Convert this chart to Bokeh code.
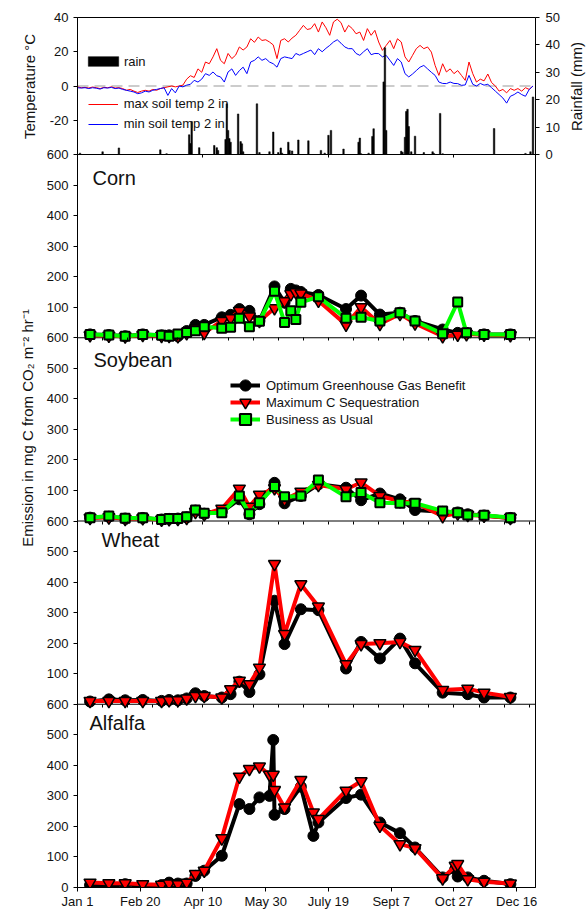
import math
from bokeh.plotting import figure
from bokeh.layouts import row
from bokeh.models import (Range1d, LinearAxis, FixedTicker, CustomJSTickFormatter,
                          Span, Label, Legend, LegendItem)
from bokeh.embed import file_html
from bokeh.resources import INLINE

FONT = "Liberation Sans"

# ---------------- data ----------------
temp_days = list(range(0, 366, 3))
max_soil_temp = [
    -0.5, -1, -0.8, -1.2, -0.6, -1, -1.5, -0.8, -1, -0.5, -1.2, -1,
    -1.5, -2.5, -2, -3, -3.8,
    -3, -2.5, -3, -2, -2.5, -1.5, -1,
    -0.5, 0, -0.5, 0, 0.5,
    4, 6, 5, 10, 8, 14, 13, 17, 21.8,
    15, 13, 19, 16, 18, 22.8, 21, 22.8, 27.6, 25.5, 28.6,
    26.6, 27, 25.7, 24, 16, 26.6, 27.6, 25.7, 28, 29.6, 32.5,
    35.4, 33, 33.5, 36.4, 31.5, 37.4, 34, 29.6, 37.4,
    39, 37, 31.5, 35.4, 33.5, 30.5, 31.5, 26.6, 33.5, 29.6, 32.5,
    25.7, 20.8, 23.7, 26.6, 21.8, 27.6, 25.7, 17, 14, 17.9, 21.8,
    23.7, 21.8, 22.8, 19.8, 12, 6.2, 13, 8.2, 10, 7.2, 9,
    6.2, 3.3, 14, 7.2, 2.3, 4, 3, 7, 2, 0, -3,
    -2, -4, -1.5, -2.5, -1.5, -3, -1, -2, 0,
]
min_soil_temp = [
    -1, -1.2, -1, -1.5, -1, -1.3, -1.8, -1, -1.2, -0.8, -1.5, -1.2,
    -2, -2.5, -3, -3.5, -4.5,
    -4, -3, -3.5, -2.5, -2, -1.5, -1,
    -5.5, -1.5, -4, 0, -0.5,
    0.5, 1, 3.3, 2.3, 4, 7.2, 6.2, 8.2, 6,
    5.3, 2.3, 8.2, 10, 6.2, 9, 11, 7.2, 14, 15, 17,
    15, 16, 14, 13, 11, 16, 17, 16.5, 16, 19, 18,
    19, 20, 21, 18.3, 21.8, 20, 22, 23.7, 25.7,
    27, 25, 22.8, 21.8, 21.8, 19, 17.9, 20, 21.8, 18.3, 19,
    18.9, 17, 17.9, 15, 12, 16, 14, 7.2, 5.3, 7, 9,
    11, 12, 10, 8, 6.2, 2.3, 1.5, 1.4, 2.3, 1.5, 1.4,
    0.4, 0.6, 6.2, 1, 0, 1.5, 0.5, 1, -1, -3, -5,
    -7, -10, -6, -5, -3.5, -5, -6, -2, 0,
]
rain_days = [2, 20, 33, 66, 71, 89, 90, 91, 97, 109, 111, 112, 118, 119, 120, 121, 122,
             128, 130, 131, 132, 143, 145, 153, 156, 160, 162, 163, 168, 169, 171, 176,
             184, 194, 197, 200, 202, 212, 224, 225, 226, 232, 235, 236, 244, 245, 246,
             258, 259, 261, 262, 263, 264, 266, 269, 276, 283, 284, 289, 291, 332, 357,
             361, 363]
rain_mm = [0.5, 1, 2.4, 1.7, 0.3, 7.2, 4, 12, 2.5, 3.3, 2.5, 1.5, 5.5, 18.5, 8.8, 5.8, 4.5,
           14.8, 4.7, 3.9, 1, 18.5, 0.7, 1, 8.2, 0.7, 2.4, 0.5, 4.5, 1.5, 1.3, 5.3,
           5, 1.5, 0.5, 7, 8.8, 2, 4.5, 6, 0.3, 0.5, 6.6, 9.4, 26.5, 39, 8.8,
           1.2, 0.8, 6.3, 15.7, 16.5, 10.2, 1, 6.7, 0.7, 1, 0.4, 15, 0.3, 9.5, 0.4,
           1, 21]

x_tick_days = [0, 50, 100, 150, 200, 250, 300, 350]
x_tick_labels = ["Jan 1", "Feb 20", "Apr 10", "May 30", "July 19", "Sept 7", "Oct 27", "Dec 16"]
boundary_tick_days = list(range(0, 366, 20))
top_boundary_tick_days = [100, 200, 300]
temp_ticks = [-40, -20, 0, 20, 40]
rain_ticks = [0, 10, 20, 30, 40, 50]
emission_ticks = [0, 100, 200, 300, 400, 500]

series_names = ["Optimum Greenhouse Gas Benefit", "Maximum C Sequestration", "Business as Usual"]

corn_days = [10, 25, 38, 52, 67, 73, 80, 87, 94, 101, 115, 122, 129, 137, 145, 157, 165, 170,
             174, 178, 192, 214, 226, 241, 257, 269, 291, 303, 310, 324, 345]
corn_opt = [11, 9, 5, 11, 8, 8, 5, 22, 42, 42, 67, 75, 94, 88, 55, 168, 115, 160, 155, 150,
            140, 94, 138, 76, 82, 55, 27, 16, 16, 11, 11]
corn_maxc = [8, 7, 4, 9, 6, 6, 5, 15, 30, 16, 55, 64, 88, 70, 55, 97, 120, 143, 149, 145,
             121, 43, 100, 45, 78, 47, 5, 10, 12, 10, 8]
corn_bau = [11, 9, 5, 11, 8, 5, 12, 17, 23, 36, 31, 34, 64, 36, 54, 152, 50, 88, 60, 116,
            134, 64, 67, 55, 82, 55, 13, 117, 16, 11, 11]

soy_days = [10, 25, 38, 52, 67, 73, 80, 87, 94, 101, 115, 129, 137, 145, 157, 165, 178, 192,
            214, 226, 241, 257, 269, 291, 303, 311, 324, 345]
soy_opt = [11, 14, 8, 10, 5, 7, 8, 12, 34, 24, 30, 71, 22, 55, 125, 58, 82, 120, 109, 68,
           90, 71, 36, 30, 28, 22, 18, 10]
soy_maxc = [10, 12, 7, 9, 4, 6, 7, 10, 30, 22, 40, 106, 47, 86, 107, 70, 96, 118, 104, 126,
            82, 65, 60, 16, 25, 20, 17, 10]
soy_bau = [11, 16, 9, 11, 5, 8, 8, 14, 36, 25, 27, 82, 24, 60, 113, 79, 82, 134, 79, 93,
           60, 58, 58, 33, 27, 20, 19, 11]

wheat_days = [10, 25, 38, 52, 67, 73, 80, 87, 94, 101, 115, 122, 129, 137, 145, 157, 165, 178,
              192, 214, 226, 241, 257, 269, 291, 311, 324, 345]
wheat_opt = [9, 16, 13, 14, 11, 14, 13, 19, 36, 27, 22, 33, 74, 40, 98, 339, 197, 311, 308,
             117, 204, 150, 215, 134, 38, 33, 22, 22]
wheat_maxc = [11, 11, 11, 11, 11, 13, 13, 19, 27, 27, 22, 49, 77, 66, 120, 459, 230, 393, 320,
              131, 197, 200, 204, 178, 47, 51, 38, 24]

alfalfa_days = [10, 25, 38, 52, 67, 73, 80, 87, 94, 101, 115, 129, 137, 145, 153, 156, 157, 165,
                178, 188, 192, 214, 226, 241, 257, 269, 291, 301, 303, 311, 324, 345]
alfalfa_opt = [8, 5, 11, 5, 8, 16, 13, 13, 38, 55, 104, 273, 257, 295, 300, 483, 238, 257,
               330, 169, 213, 293, 304, 213, 178, 131, 33, 60, 36, 33, 22, 11]
alfalfa_maxc = [16, 14, 14, 11, 9, 13, 11, 16, 44, 55, 161, 363, 388, 396, 369, 369, 319, 262,
                352, 246, 224, 317, 348, 202, 142, 129, 30, 71, 77, 27, 19, 13]

# ---------------- layout ----------------
FRAME_W = 458
FRAME_H = 870
TEMP_H = 137
PANEL_H = (FRAME_H - TEMP_H) / 4.0
EMAX = 600
TOP = 17
LEFT_STRIP = 37
RIGHT_STRIP = 21
STRIP_H = 900
STRIP_SHIFT = 24   # measured offset of the strip frame

bands = {
    "alfalfa": (0.0, PANEL_H),
    "wheat": (PANEL_H, 2 * PANEL_H),
    "soy": (2 * PANEL_H, 3 * PANEL_H),
    "corn": (3 * PANEL_H, 4 * PANEL_H),
    "temp": (4 * PANEL_H, float(FRAME_H)),
}


def band_range(band, v0, v1):
    b0, b1 = band
    s = (v1 - v0) / (b1 - b0)
    return Range1d(v0 - b0 * s, v0 + (FRAME_H - b0) * s)


def to_layout(band, v0, v1, v):
    b0, b1 = band
    return b0 + (v - v0) * (b1 - b0) / (v1 - v0)


def fy(page_y):
    # page y (from top) -> screen y measured from the frame bottom
    return TOP + FRAME_H - page_y


p = figure(frame_width=FRAME_W, frame_height=FRAME_H,
           x_range=Range1d(0, 365), y_range=Range1d(0, FRAME_H),
           output_backend="svg", toolbar_location=None,
           min_border_left=40, min_border_right=30, min_border_top=TOP, min_border_bottom=0,
           background_fill_color="white", border_fill_color="white",
           outline_line_color="black", outline_line_width=1)
p.xgrid.visible = False
p.ygrid.visible = False

p.extra_y_ranges = {
    "temp": band_range(bands["temp"], -40, 40),
    "rain": band_range(bands["temp"], 0, 50),
    "corn": band_range(bands["corn"], 0, EMAX),
    "soy": band_range(bands["soy"], 0, EMAX),
    "wheat": band_range(bands["wheat"], 0, EMAX),
    "alfalfa": band_range(bands["alfalfa"], 0, EMAX),
}

# left axis: ticks for every panel
ypos, ylab = [], []
for name in ["alfalfa", "wheat", "soy", "corn"]:
    for v in emission_ticks:
        ypos.append(round(to_layout(bands[name], 0, EMAX, v), 4))
        ylab.append(str(v) if (v > 0 or name == "alfalfa") else "600")
for t in temp_ticks:
    ypos.append(round(to_layout(bands["temp"], -40, 40, t), 4))
    ylab.append("600" if t == -40 else str(t))

yax = p.yaxis[0]
yax.ticker = FixedTicker(ticks=ypos)
yax.formatter = CustomJSTickFormatter(args=dict(pos=ypos, labs=ylab), code="""
let best = -1, bd = 1e9;
for (let i = 0; i < pos.length; i++) {
  const d = Math.abs(pos[i] - tick);
  if (d < bd) { bd = d; best = i; }
}
return (best >= 0 && bd < 0.01) ? labs[best] : "";
""")

xax = p.xaxis[0]
xax.ticker = FixedTicker(ticks=x_tick_days)
xax.major_label_overrides = {d: l for d, l in zip(x_tick_days, x_tick_labels)}

for ax in (xax, yax):
    ax.major_tick_out = 4
    ax.major_tick_in = 0
    ax.minor_tick_out = 0
    ax.minor_tick_in = 0
    ax.axis_line_color = "black"
    ax.major_tick_line_color = "black"
    ax.major_label_text_font = FONT
    ax.major_label_text_font_size = "13px"
    ax.major_label_text_color = "#111111"
xax.major_label_standoff = 2
yax.major_label_standoff = 5

# right rain axis
rax = LinearAxis(y_range_name="rain", ticker=FixedTicker(ticks=rain_ticks))
rax.axis_line_color = None
rax.major_tick_out = 4
rax.major_tick_in = 0
rax.minor_tick_out = 0
rax.minor_tick_in = 0
rax.major_label_standoff = 6
rax.major_label_text_font = FONT
rax.major_label_text_font_size = "13px"
rax.major_label_text_color = "#111111"
p.add_layout(rax, "right")

# internal tick rows along panel boundaries
for rname, loc, ticks in [("temp", -40, top_boundary_tick_days),
                          ("corn", 0, boundary_tick_days),
                          ("soy", 0, boundary_tick_days),
                          ("wheat", 0, boundary_tick_days)]:
    ia = LinearAxis(y_range_name=rname, fixed_location=loc, ticker=FixedTicker(ticks=ticks))
    ia.axis_line_color = None
    ia.major_tick_out = 3
    ia.major_tick_in = 0
    ia.minor_tick_out = 0
    ia.minor_tick_in = 0
    ia.major_label_text_alpha = 0
    ia.major_label_text_font_size = "0px"
    ia.major_label_standoff = 0
    p.add_layout(ia, "below")

# panel boundary lines and zero line
for name in ["wheat", "soy", "corn", "temp"]:
    p.add_layout(Span(location=bands[name][0], dimension="width", line_color="black",
                      line_width=1, level="underlay"))
p.add_layout(Span(location=0, dimension="width", y_range_name="temp", line_color="#cccccc",
                  line_width=2, line_dash="11 6", level="underlay"))

# ---------------- temperature + rain ----------------
r_max = p.line(temp_days, max_soil_temp, y_range_name="temp", line_color="#ff0000", line_width=1)
r_min = p.line(temp_days, min_soil_temp, y_range_name="temp", line_color="#0000ff", line_width=1)
r_rain = p.vbar(x=rain_days, top=rain_mm, bottom=0, width=1.2, y_range_name="rain",
                fill_color="black", line_color="black", line_width=0.5)

# ---------------- emissions ----------------
STYLE = {
    "opt": dict(color="black", marker="circle", size=11, fill="black", lw=1),
    "maxc": dict(color="#ff0000", marker="inverted_triangle", size=12, fill="#ff0000", lw=1.5),
    "bau": dict(color="#00ff00", marker="square", size=9, fill="#00ff00", lw=2),
}


def draw(days, vals, rng, key):
    st = STYLE[key]
    ln = p.line(days, vals, y_range_name=rng, line_color=st["color"], line_width=4)
    sc = p.scatter(days, vals, y_range_name=rng, marker=st["marker"], size=st["size"],
                   fill_color=st["fill"], line_color="black", line_width=st["lw"])
    return ln, sc


draw(corn_days, corn_opt, "corn", "opt")
draw(corn_days, corn_maxc, "corn", "maxc")
draw(corn_days, corn_bau, "corn", "bau")
leg_opt = draw(soy_days, soy_opt, "soy", "opt")
leg_maxc = draw(soy_days, soy_maxc, "soy", "maxc")
leg_bau = draw(soy_days, soy_bau, "soy", "bau")
draw(wheat_days, wheat_opt, "wheat", "opt")
draw(wheat_days, wheat_maxc, "wheat", "maxc")
draw(alfalfa_days, alfalfa_opt, "alfalfa", "opt")
draw(alfalfa_days, alfalfa_maxc, "alfalfa", "maxc")


# ---------------- legends (location = bottom-left corner, from frame bottom-left) ----------------
def make_legend(items, loc, gw, gh, standoff):
    lg = Legend(items=items, location=loc, glyph_width=gw, glyph_height=gh, label_height=gh,
                label_standoff=standoff, spacing=0)
    lg.background_fill_alpha = 0
    lg.border_line_color = None
    lg.padding = 0
    lg.margin = 0
    lg.label_text_font = FONT
    lg.label_text_font_size = "13px"
    lg.label_text_color = "#111111"
    p.add_layout(lg)


make_legend([LegendItem(label="rain", renderers=[r_rain])], (6.9, fy(68.5)), 38, 12, 2)
make_legend([LegendItem(label="max soil temp 2 in", renderers=[r_max]),
             LegendItem(label="min soil temp 2 in", renderers=[r_min])], (10.7, fy(133.5)), 30, 20, 6)
for k, (nm, rr) in enumerate(zip(series_names, [leg_opt, leg_maxc, leg_bau])):
    make_legend([LegendItem(label=nm, renderers=list(rr))], (153, fy(385 + 17 * k + 14)), 30, 28, 6)

# ---------------- panel names ----------------
for txt, x, yb in [("Corn", 92, 185), ("Soybean", 93, 367), ("Wheat", 101, 547), ("Alfalfa", 89, 730)]:
    p.add_layout(Label(x=x - 77, y=fy(yb - 8), x_units="screen", y_units="screen", text=txt,
                       text_font=FONT, text_font_size="20px", text_color="#111111",
                       text_baseline="alphabetic", text_align="left"))


# ---------------- side strips with the axis titles ----------------
def strip(width):
    f = figure(width=width, height=STRIP_H, x_range=Range1d(0, width), y_range=Range1d(0, STRIP_H),
               output_backend="svg", toolbar_location=None, min_border=0,
               min_border_left=0, min_border_right=0, min_border_top=0, min_border_bottom=0,
               x_axis_location=None, y_axis_location=None, outline_line_color=None,
               background_fill_color="white", border_fill_color="white")
    f.xgrid.visible = False
    f.ygrid.visible = False
    return f


def sy(page_y):
    return STRIP_H - STRIP_SHIFT - page_y


left = strip(LEFT_STRIP)
for txt, x, y in [("Temperature \u00b0C", 29, 86),
                  ("Emission in mg C from CO\u2082 m\u207b\u00b2 hr\u207b\u00b9", 27, 427.5)]:
    left.add_layout(Label(x=x, y=sy(y), x_units="screen", y_units="screen", text=txt,
                          angle=math.pi / 2, text_font=FONT, text_font_size="15px",
                          text_color="#111111", text_baseline="middle", text_align="center"))

right = strip(RIGHT_STRIP)
right.add_layout(Label(x=576 - 565, y=sy(86), x_units="screen", y_units="screen",
                       text="Rainfall (mm)", angle=math.pi / 2, text_font=FONT,
                       text_font_size="15px", text_color="#111111",
                       text_baseline="middle", text_align="center"))

layout = row(left, p, right, spacing=0)
open("out.html", "w").write(file_html(layout, INLINE))
